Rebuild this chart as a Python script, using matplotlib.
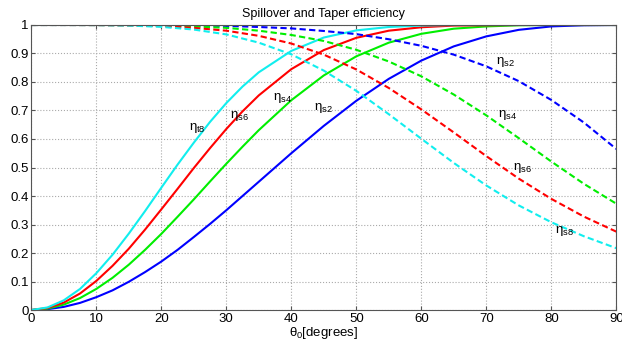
import numpy as np
from matplotlib import pyplot as plt

# data
# spillover curves (solid) sampled finer where they bend most
theta_s = [0, 2.5, 5, 7.5, 10, 12.5, 15, 17.5, 20, 22.5, 25, 27.5, 30, 32.5, 35,
           40, 45, 50, 55, 60, 65, 70, 75, 80, 85, 90]
spill_2 = [0, 0.003, 0.011, 0.025, 0.045, 0.069, 0.099, 0.133, 0.170, 0.211, 0.256,
           0.302, 0.350, 0.400, 0.450, 0.550, 0.646, 0.734, 0.811, 0.875, 0.925,
           0.960, 0.983, 0.995, 0.999, 1.0]
spill_4 = [0, 0.005, 0.019, 0.042, 0.074, 0.113, 0.159, 0.211, 0.267, 0.327, 0.388,
           0.451, 0.513, 0.573, 0.631, 0.736, 0.823, 0.890, 0.938, 0.969, 0.987,
           0.995, 0.999, 1.0, 1.0, 1.0]
spill_6 = [0, 0.007, 0.026, 0.058, 0.102, 0.155, 0.215, 0.282, 0.353, 0.425, 0.498,
           0.568, 0.635, 0.697, 0.753, 0.845, 0.912, 0.955, 0.980, 0.992, 0.998,
           0.999, 1.0, 1.0, 1.0, 1.0]
spill_8 = [0, 0.009, 0.034, 0.074, 0.129, 0.194, 0.268, 0.347, 0.429, 0.510, 0.587,
           0.660, 0.726, 0.784, 0.834, 0.909, 0.956, 0.981, 0.993, 0.998, 1.0,
           1.0, 1.0, 1.0, 1.0, 1.0]

# taper curves (dashed), every 5 degrees
theta_t = [0, 5, 10, 15, 20, 25, 30, 35, 40, 45, 50, 55, 60, 65, 70, 75, 80, 85, 90]
taper_2 = [1, 1.0, 1.0, 0.9998, 0.9993, 0.998, 0.997, 0.993, 0.988, 0.979,
           0.968, 0.950, 0.927, 0.896, 0.855, 0.803, 0.737, 0.658, 0.565]
taper_4 = [1, 1.0, 0.9999, 0.9993, 0.998, 0.995, 0.990, 0.980, 0.965, 0.944,
           0.913, 0.872, 0.820, 0.756, 0.683, 0.603, 0.521, 0.443, 0.373]
taper_6 = [1, 1.0, 0.9997, 0.9987, 0.996, 0.990, 0.980, 0.962, 0.935, 0.896,
           0.844, 0.779, 0.704, 0.623, 0.540, 0.461, 0.390, 0.328, 0.275]
taper_8 = [1, 1.0, 0.9996, 0.998, 0.9935, 0.984, 0.967, 0.938, 0.897, 0.840,
           0.769, 0.687, 0.601, 0.516, 0.437, 0.367, 0.308, 0.259, 0.217]

colors = ['#0000ff', '#00ee00', '#ff0000', '#11eeee']
spills = [spill_2, spill_4, spill_6, spill_8]
tapers = [taper_2, taper_4, taper_6, taper_8]

# curve labels as in the original
labels = ['$\\eta_{t8}$', '$\\eta_{s6}$', '$\\eta_{s4}$', '$\\eta_{s2}$',
          '$\\eta_{s2}$', '$\\eta_{s4}$', '$\\eta_{s6}$', '$\\eta_{s8}$']
label_x = [25.5, 32, 38.6, 45, 73, 73.3, 75.5, 82]
label_y = [0.64, 0.68, 0.744, 0.71, 0.87, 0.684, 0.50, 0.277]

plt.rcParams['font.family'] = ['Liberation Sans', 'DejaVu Sans']
plt.rcParams['mathtext.fontset'] = 'custom'
plt.rcParams['mathtext.rm'] = 'Liberation Sans'
plt.rcParams['mathtext.it'] = 'Liberation Sans'

fig = plt.figure(figsize=(6.22, 3.49), dpi=100)
ax = fig.add_axes([0.0503, 0.1117, 0.9405, 0.8167])

for c, s in zip(colors, spills):
    ax.plot(theta_s, s, color=c, lw=1.5)
for c, t in zip(colors, tapers):
    ax.plot(theta_t, t, color=c, lw=1.5, linestyle=(0, (3, 1.6)))

for lx, ly, lab in zip(label_x, label_y, labels):
    ax.text(lx, ly, lab, fontsize=9.5, ha='center', va='center')

ax.set_xlim(0, 90)
ax.set_ylim(0, 1)
ax.set_xticks(np.arange(0, 91, 10))
ax.set_yticks(np.arange(0, 1.01, 0.1))
ax.set_yticklabels(['0', '0.1', '0.2', '0.3', '0.4', '0.5', '0.6', '0.7', '0.8', '0.9', '1'])
ax.tick_params(direction='in', top=True, right=True, length=3, labelsize=9.5, pad=2,
               color='#555555')
for sp in ax.spines.values():
    sp.set_color('#555555')
    sp.set_linewidth(0.8)
ax.grid(True, linestyle=':', color='#aaaaaa', linewidth=0.8)

ax.set_title('Spillover and Taper efficiency', fontsize=9, pad=6)
ax.set_xlabel('$\\theta_0$[degrees]', fontsize=9.5, labelpad=0)

plt.savefig('out.png', dpi=100)
